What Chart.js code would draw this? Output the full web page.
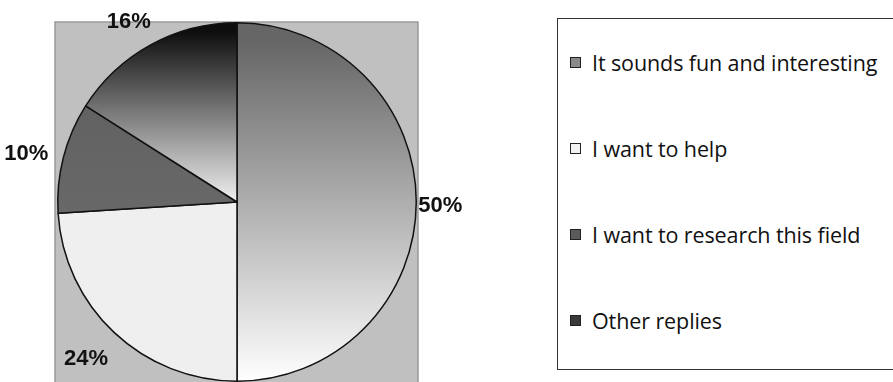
<!DOCTYPE html>
<html>
<head>
<meta charset="utf-8">
<script src="https://cdn.jsdelivr.net/npm/chart.js@4"></script>
<style>
    html, body { margin: 0; padding: 0; background: #fff; overflow: hidden; }
    #wrap { position: relative; width: 893px; height: 382px; overflow: hidden; }
    #legendBox {
        position: absolute; left: 557px; top: 18px; width: 400px; height: 352px;
        border: 1.5px solid #333; border-right: none; box-sizing: border-box; background: #fff;
    }
    .item {
        position: absolute; left: 12px; height: 28px; display: flex; align-items: center;
        font-family: "Open Sans", sans-serif; font-size: 21.5px; color: #111; white-space: nowrap;
        letter-spacing: -0.1px;
    }
    .box { width: 9px; height: 9px; border: 1.5px solid #222; margin-right: 11px; flex: none; }
</style>
</head>
<body>
<div id="wrap">
    <canvas id="pieChart" width="893" height="382"></canvas>
    <div id="legendBox"></div>
</div>
<script>
const categories = ['It sounds fun and interesting', 'I want to help', 'I want to research this field', 'Other replies'];
const shares = [50, 24, 10, 16];
const percentLabels = ['50%', '24%', '10%', '16%'];

// fill for every slice: [top colour, bottom colour]
const sliceShades = [
    ['#666666', '#ffffff'],
    ['#efefef', '#efefef'],
    ['#5e5e5e', '#727272'],
    ['#0e0e0e', '#f0f0f0'],
];
const legendShades = ['#8a8a8a', '#f2f2f2', '#5a5a5a', '#3a3a3a'];

function sliceFill(context) {
    const chart = context.chart;
    const area = chart.chartArea;
    if (!area) return sliceShades[context.dataIndex][0];
    const c = chart.ctx;
    const cy = (area.top + area.bottom) / 2;
    const shade = sliceShades[context.dataIndex];
    let g;
    if (context.dataIndex === 3) {
        g = c.createLinearGradient(0, area.top + 10, 0, cy);
    } else {
        g = c.createLinearGradient(0, area.top + 20, 0, area.bottom);
    }
    g.addColorStop(0, shade[0]);
    g.addColorStop(1, shade[1]);
    return g;
}

// gray plot box behind the pie
const plotBox = {
    id: 'plotBox',
    beforeDraw(chart) {
        const { ctx, chartArea } = chart;
        ctx.save();
        ctx.fillStyle = '#c0c0c0';
        ctx.fillRect(chartArea.left - 2, chartArea.top, chartArea.width + 3, chart.height);
        ctx.strokeStyle = '#9a9a9a';
        ctx.lineWidth = 1.5;
        ctx.strokeRect(chartArea.left - 2, chartArea.top, chartArea.width + 3, chart.height + 5);
        ctx.restore();
    }
};

// percentage labels outside the slices
const outsideLabels = {
    id: 'outsideLabels',
    afterDatasetsDraw(chart) {
        const { ctx } = chart;
        const meta = chart.getDatasetMeta(0);
        ctx.save();
        ctx.font = 'bold 22px "Liberation Sans", Arial, sans-serif';
        ctx.fillStyle = '#111';
        ctx.textAlign = 'center';
        ctx.textBaseline = 'middle';
        meta.data.forEach((arc, i) => {
            const p = arc.getProps(['x', 'y', 'startAngle', 'endAngle', 'outerRadius'], true);
            const mid = (p.startAngle + p.endAngle) / 2;
            const r = p.outerRadius + 31;
            ctx.fillText(percentLabels[i], p.x + Math.cos(mid) * r - 7, p.y + Math.sin(mid) * r + 4);
        });
        ctx.restore();
    }
};

const ctx = document.getElementById('pieChart').getContext('2d');
const pieChart = new Chart(ctx, {
    type: 'pie',
    data: {
        labels: categories,
        datasets: [{
            data: shares,
            backgroundColor: sliceFill,
            borderColor: '#111',
            borderWidth: 1.5,
        }]
    },
    options: {
        responsive: false,
        animation: false,
        layout: { padding: { left: 57, top: 22, right: 476, bottom: 0 } },
        plugins: {
            legend: { display: false },
            tooltip: { enabled: false },
        }
    },
    plugins: [plotBox, outsideLabels]
});

// legend on the right
const legendBox = document.getElementById('legendBox');
categories.forEach((name, i) => {
    const item = document.createElement('div');
    item.className = 'item';
    item.style.top = (29 + i * 86) + 'px';
    const box = document.createElement('span');
    box.className = 'box';
    box.style.background = legendShades[i];
    const txt = document.createElement('span');
    txt.textContent = name;
    item.appendChild(box);
    item.appendChild(txt);
    legendBox.appendChild(item);
});
</script>
</body>
</html>
